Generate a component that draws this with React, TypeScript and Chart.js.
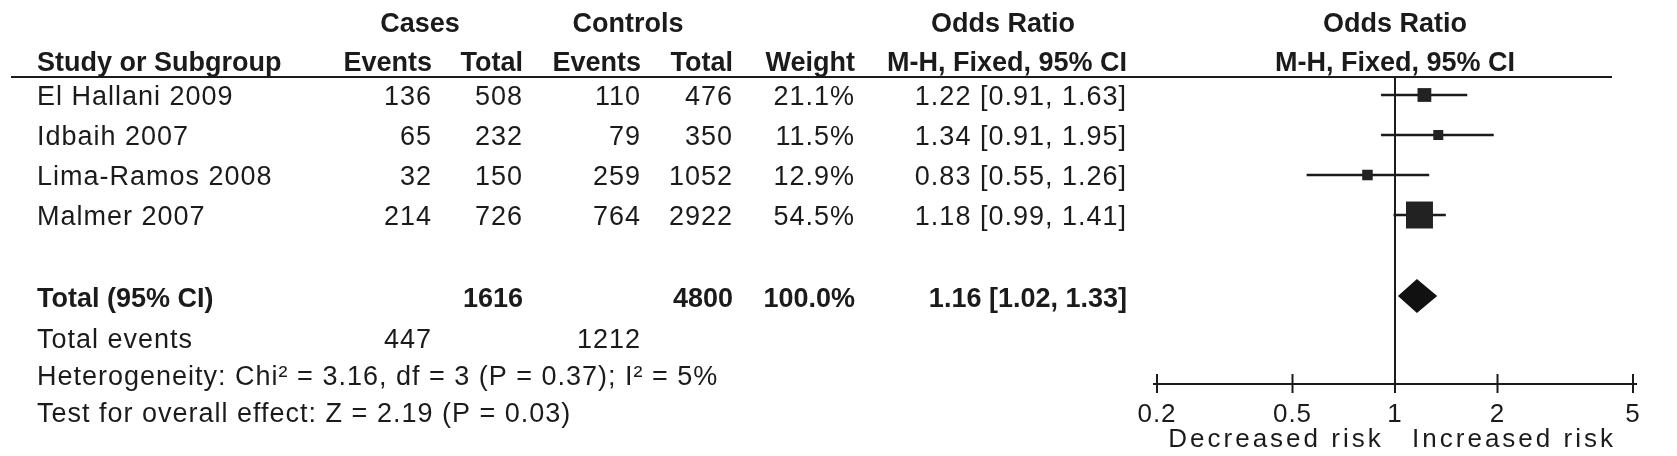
import React, { useEffect, useRef } from "react";
import { Chart, registerables } from "chart.js";

Chart.register(...registerables);

// ---------- data ----------
const studies = ["El Hallani 2009", "Idbaih 2007", "Lima-Ramos 2008", "Malmer 2007"];
const casesEvents = [136, 65, 32, 214];
const casesTotal = [508, 232, 150, 726];
const controlsEvents = [110, 79, 259, 764];
const controlsTotal = [476, 350, 1052, 2922];
const weights = [21.1, 11.5, 12.9, 54.5];
const oddsRatio = [1.22, 1.34, 0.83, 1.18];
const ciLow = [0.91, 0.91, 0.55, 0.99];
const ciHigh = [1.63, 1.95, 1.26, 1.41];

const totalLabel = "Total (95% CI)";
const totalCases = 1616;
const totalControls = 4800;
const totalWeight = 100.0;
const totalOR = 1.16;
const totalLow = 1.02;
const totalHigh = 1.33;
const totalEventsCases = 447;
const totalEventsControls = 1212;
const heterogeneityText = "Heterogeneity: Chi\u00B2 = 3.16, df = 3 (P = 0.37); I\u00B2 = 5%";
const overallText = "Test for overall effect: Z = 2.19 (P = 0.03)";

const xTicks = [0.2, 0.5, 1, 2, 5];
const xTickLabels = ["0.2", "0.5", "1", "2", "5"];
const leftAxisLabel = "Decreased risk";
const rightAxisLabel = "Increased risk";

// ---------- layout ----------
const W = 1677;
const H = 456;
const INK = "#1b1b1b";
const FONT = '"Liberation Sans", Arial, sans-serif';
const ROW_PX = 40;
const TOP = 77;
const FIRST_ROW = 95;
const AXIS_Y = 384;

const fmt2 = (v: number) => v.toFixed(2);
const orText = (o: number, l: number, h: number) => `${fmt2(o)} [${fmt2(l)}, ${fmt2(h)}]`;

export default function App() {
  const ref = useRef<HTMLCanvasElement>(null);

  useEffect(() => {
    const canvas = ref.current;
    if (!canvas) return;
    const totalPos = studies.length + 1.025;
    const yMin = -(FIRST_ROW - TOP) / ROW_PX;
    const yMax = yMin + (AXIS_Y - TOP) / ROW_PX;

    const ciDatasets = studies.map((s, i) => ({
      type: "line" as const,
      label: s,
      data: [
        { x: ciLow[i], y: i },
        { x: ciHigh[i], y: i },
      ],
      borderColor: INK,
      borderWidth: 2.5,
      pointRadius: 0,
      fill: false,
      showLine: true,
    }));

    const squares = {
      type: "scatter" as const,
      label: "Odds ratio",
      data: oddsRatio.map((v, i) => ({ x: v, y: i })),
      pointStyle: "rect",
      pointRadius: weights.map((w) => (5.45 + 0.395 * w) / Math.SQRT2),
      pointHoverRadius: weights.map((w) => (5.45 + 0.395 * w) / Math.SQRT2),
      backgroundColor: "#222222",
      borderWidth: 0,
    };

    const forestPlugin = {
      id: "forest",
      beforeDatasetsDraw(chart: any) {
        const { ctx, chartArea, scales } = chart;
        const xs = scales.x;
        ctx.save();
        ctx.strokeStyle = INK;
        ctx.lineWidth = 2;
        // header rule
        ctx.beginPath();
        ctx.moveTo(11, chartArea.top);
        ctx.lineTo(1612, chartArea.top);
        ctx.stroke();
        // line of no effect
        const x1 = xs.getPixelForValue(1);
        ctx.beginPath();
        ctx.moveTo(x1, chartArea.top);
        ctx.lineTo(x1, chartArea.bottom);
        ctx.stroke();
        // axis
        const y = chartArea.bottom;
        const xa = xs.getPixelForValue(xTicks[0]);
        const xb = xs.getPixelForValue(xTicks[xTicks.length - 1]);
        ctx.beginPath();
        ctx.moveTo(xa - 4, y);
        ctx.lineTo(xb + 4, y);
        ctx.stroke();
        xTicks.forEach((t) => {
          const px = xs.getPixelForValue(t);
          ctx.beginPath();
          ctx.moveTo(px, y - 10);
          ctx.lineTo(px, y + 9);
          ctx.stroke();
        });
        ctx.fillStyle = INK;
        ctx.font = `26px ${FONT}`;
        (ctx as any).letterSpacing = "1px";
        ctx.textAlign = "center";
        ctx.textBaseline = "alphabetic";
        xTicks.forEach((t, i) => {
          ctx.fillText(xTickLabels[i], xs.getPixelForValue(t), y + 38);
        });
        (ctx as any).letterSpacing = "3px";
        ctx.fillText(leftAxisLabel, (xa + x1) / 2, y + 63);
        ctx.fillText(rightAxisLabel, (x1 + xb) / 2, y + 63);
        ctx.restore();
      },
      afterDatasetsDraw(chart: any) {
        const { ctx, scales } = chart;
        const xs = scales.x;
        const ys = scales.y;
        const yc = ys.getPixelForValue(totalPos);
        const half = 17;
        ctx.save();
        ctx.fillStyle = "#111111";
        ctx.beginPath();
        ctx.moveTo(xs.getPixelForValue(totalLow), yc);
        ctx.lineTo(xs.getPixelForValue(totalOR), yc - half);
        ctx.lineTo(xs.getPixelForValue(totalHigh), yc);
        ctx.lineTo(xs.getPixelForValue(totalOR), yc + half);
        ctx.closePath();
        ctx.fill();
        ctx.restore();
      },
      afterDraw(chart: any) {
        const { ctx, scales } = chart;
        const ys = scales.y;
        const xs = scales.x;
        const cx = {
          name: 37,
          cEv: 432,
          cTot: 523,
          kEv: 641,
          kTot: 733,
          wt: 855,
          or: 1127,
        };
        const put = (s: string, x: number, y: number, align: CanvasTextAlign, bold: boolean) => {
          ctx.font = `${bold ? "bold " : ""}27px ${FONT}`;
          (ctx as any).letterSpacing = bold ? "0px" : "1px";
          ctx.textAlign = align;
          ctx.fillText(s, x, y);
        };
        ctx.save();
        ctx.fillStyle = INK;
        ctx.textBaseline = "alphabetic";
        // headers
        const h1 = 32;
        const h2 = 71;
        put("Cases", 420, h1, "center", true);
        put("Controls", 628, h1, "center", true);
        put("Odds Ratio", 1003, h1, "center", true);
        put("Odds Ratio", xs.getPixelForValue(1), h1, "center", true);
        put("Study or Subgroup", cx.name, h2, "left", true);
        put("Events", cx.cEv, h2, "right", true);
        put("Total", cx.cTot, h2, "right", true);
        put("Events", cx.kEv, h2, "right", true);
        put("Total", cx.kTot, h2, "right", true);
        put("Weight", cx.wt, h2, "right", true);
        put("M-H, Fixed, 95% CI", cx.or, h2, "right", true);
        put("M-H, Fixed, 95% CI", xs.getPixelForValue(1), h2, "center", true);
        // study rows
        studies.forEach((s, i) => {
          const yb = ys.getPixelForValue(i) + 9.5;
          put(s, cx.name, yb, "left", false);
          put(String(casesEvents[i]), cx.cEv, yb, "right", false);
          put(String(casesTotal[i]), cx.cTot, yb, "right", false);
          put(String(controlsEvents[i]), cx.kEv, yb, "right", false);
          put(String(controlsTotal[i]), cx.kTot, yb, "right", false);
          put(`${weights[i].toFixed(1)}%`, cx.wt, yb, "right", false);
          put(orText(oddsRatio[i], ciLow[i], ciHigh[i]), cx.or, yb, "right", false);
        });
        // total row
        const tb = ys.getPixelForValue(totalPos) + 11;
        put(totalLabel, cx.name, tb, "left", true);
        put(String(totalCases), cx.cTot, tb, "right", true);
        put(String(totalControls), cx.kTot, tb, "right", true);
        put(`${totalWeight.toFixed(1)}%`, cx.wt, tb, "right", true);
        put(orText(totalOR, totalLow, totalHigh), cx.or, tb, "right", true);
        // footer
        put("Total events", cx.name, tb + 41, "left", false);
        put(String(totalEventsCases), cx.cEv, tb + 41, "right", false);
        put(String(totalEventsControls), cx.kEv, tb + 41, "right", false);
        put(heterogeneityText, cx.name, tb + 78, "left", false);
        put(overallText, cx.name, tb + 115, "left", false);
        ctx.restore();
      },
    };

    const chart = new Chart(canvas, {
      type: "scatter",
      data: { datasets: [squares as any, ...(ciDatasets as any)] },
      options: {
        animation: false,
        responsive: false,
        devicePixelRatio: 1,
        events: [],
        layout: { padding: { left: 1157, right: W - 1633, top: TOP, bottom: H - AXIS_Y } },
        scales: {
          x: { type: "logarithmic", min: 0.2, max: 5, display: false },
          y: { type: "linear", reverse: true, min: yMin, max: yMax, display: false },
        },
        plugins: { legend: { display: false }, tooltip: { enabled: false } },
      },
      plugins: [forestPlugin],
    });
    return () => chart.destroy();
  }, []);

  return (
    <div style={{ position: "absolute", left: 0, top: 0, width: W, height: H, background: "#ffffff" }}>
      <canvas ref={ref} width={W} height={H} style={{ width: W, height: H, display: "block" }} />
    </div>
  );
}
